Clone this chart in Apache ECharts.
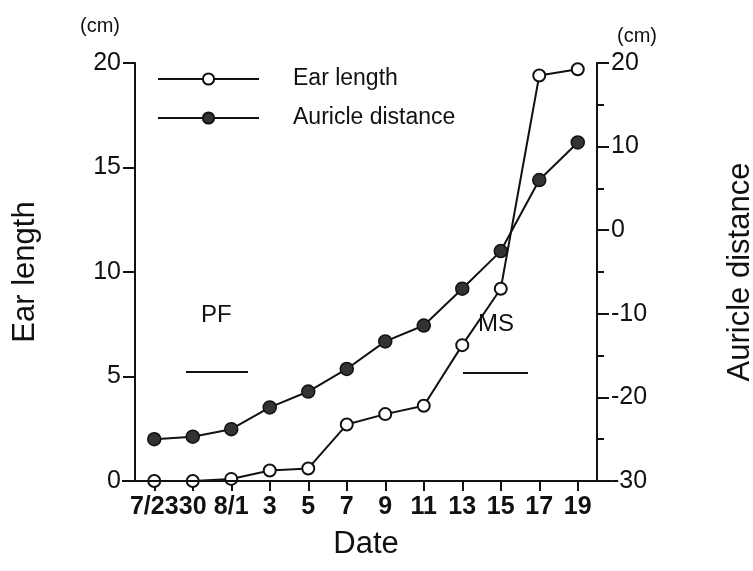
<!DOCTYPE html>
<html>
<head>
<meta charset="utf-8">
<script src="https://cdn.jsdelivr.net/npm/echarts@6/dist/echarts.min.js"></script>
<style>
    html, body { margin: 0; padding: 0; background: #fff; }
    #chart { width: 753px; height: 571px; }
</style>
</head>
<body>
<div id="chart"></div>
<script>
    // dates on the x axis
    const dates = ['7/23', '30', '8/1', '3', '5', '7', '9', '11', '13', '15', '17', '19'];
    // ear length (cm), left axis
    const earLength = [0, 0, 0.1, 0.5, 0.6, 2.7, 3.2, 3.6, 6.5, 9.2, 19.4, 19.7];
    // auricle distance (cm), right axis
    const auricleDistance = [-25.0, -24.7, -23.8, -21.2, -19.3, -16.6, -13.3, -11.4, -7.0, -2.5, 6.0, 10.5];

    const ink = '#111';
    const font = '"Liberation Sans", Arial, Helvetica, sans-serif';
    const grid = { left: 135, right: 156, top: 63, bottom: 90, outerBoundsMode: 'none', containLabel: false };
    const W = 753, H = 571;
    const axisY = H - grid.bottom;

    const tickLabel = { color: ink, fontSize: 25, fontFamily: font };
    const axisName = { color: ink, fontSize: 31, fontFamily: font };

    const chart = echarts.init(document.getElementById('chart'));
    chart.setOption({
        animation: false,
        backgroundColor: '#fff',
        grid: grid,
        legend: {
            left: 157,
            top: 65,
            padding: 0,
            orient: 'vertical',
            itemWidth: 101,
            itemHeight: 14,
            itemGap: 11,
            textStyle: { color: ink, fontSize: 23, fontFamily: font, lineHeight: 28, padding: [0, 0, 0, 29] },
            data: ['Ear length', 'Auricle distance']
        },
        xAxis: {
            type: 'category',
            data: dates,
            boundaryGap: true,
            name: 'Date',
            nameLocation: 'middle',
            nameGap: 48,
            nameTextStyle: axisName,
            axisLine: { show: false },
            axisTick: { show: true, alignWithLabel: true, length: 10, lineStyle: { color: ink, width: 2 } },
            axisLabel: Object.assign({ interval: 0, margin: 14, fontWeight: 'bold' }, tickLabel),
            splitLine: { show: false }
        },
        yAxis: [
            {
                type: 'value',
                min: 0,
                max: 20,
                interval: 5,
                name: 'Ear length',
                nameLocation: 'middle',
                nameRotate: 90,
                nameGap: 94,
                nameTextStyle: axisName,
                axisLine: { show: true, lineStyle: { color: ink, width: 2 } },
                axisTick: { show: true, length: 12, lineStyle: { color: ink, width: 2 } },
                axisLabel: Object.assign({ margin: 14 }, tickLabel),
                splitLine: { show: false }
            },
            {
                type: 'value',
                min: -30,
                max: 20,
                interval: 10,
                position: 'right',
                name: 'Auricle distance',
                nameLocation: 'middle',
                nameRotate: 90,
                nameGap: 128,
                nameTextStyle: axisName,
                axisLine: { show: true, lineStyle: { color: ink, width: 2 } },
                axisTick: { show: true, length: 12, lineStyle: { color: ink, width: 2 } },
                minorTick: { show: true, splitNumber: 2, length: 7, lineStyle: { color: ink, width: 2 } },
                axisLabel: Object.assign({ margin: 14 }, tickLabel),
                splitLine: { show: false },
                minorSplitLine: { show: false }
            }
        ],
        series: [
            {
                name: 'Auricle distance',
                type: 'line',
                yAxisIndex: 1,
                data: auricleDistance,
                symbol: 'circle',
                symbolSize: 13,
                lineStyle: { color: ink, width: 2 },
                itemStyle: { color: '#333', borderColor: ink, borderWidth: 1.5 },
                z: 3
            },
            {
                name: 'Ear length',
                type: 'line',
                yAxisIndex: 0,
                data: earLength,
                symbol: 'circle',
                symbolSize: 12,
                lineStyle: { color: ink, width: 2 },
                itemStyle: { color: '#fff', borderColor: ink, borderWidth: 2 },
                z: 4
            }
        ],
        graphic: [
            // x axis baseline runs past both y axes
            { type: 'line', shape: { x1: grid.left - 13, y1: axisY, x2: W - grid.right + 15, y2: axisY },
              style: { stroke: ink, lineWidth: 2 }, z: 10 },
            { type: 'text', left: 80, top: 16, style: { text: '(cm)', fill: ink, font: '20px ' + font } },
            { type: 'text', left: 617, top: 26, style: { text: '(cm)', fill: ink, font: '20px ' + font } },
            // stage annotations
            { type: 'text', left: 201, top: 303, style: { text: 'PF', fill: ink, font: '24px ' + font } },
            { type: 'line', shape: { x1: 186, y1: 372, x2: 248, y2: 372 }, style: { stroke: ink, lineWidth: 2 } },
            { type: 'text', left: 478, top: 312, style: { text: 'MS', fill: ink, font: '24px ' + font } },
            { type: 'line', shape: { x1: 463, y1: 373, x2: 528, y2: 373 }, style: { stroke: ink, lineWidth: 2 } }
        ]
    });
</script>
</body>
</html>
